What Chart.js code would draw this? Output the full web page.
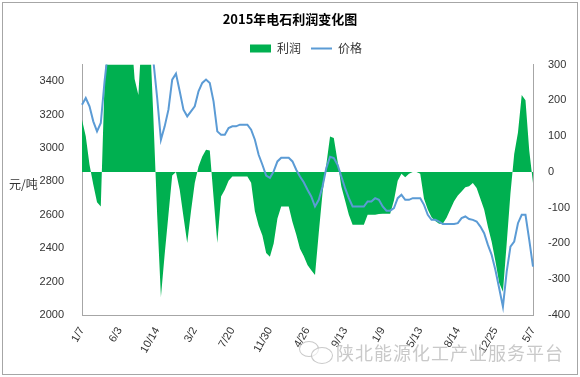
<!DOCTYPE html>
<html>
<head>
<meta charset="utf-8">
<script src="https://cdn.jsdelivr.net/npm/chart.js@4"></script>
<style>
    html, body { margin: 0; padding: 0; background: #fff; }
    #wrap { position: relative; width: 580px; height: 377px; }
    #frame { position: absolute; left: 2px; top: 2px; width: 574px; height: 371px; border: 1px solid #a6a6a6; pointer-events: none; }
    #mark { position: absolute; left: 336px; top: 339px; font: 18px "Noto Sans CJK SC", sans-serif; color: rgba(165,165,165,0.6); letter-spacing: 1px; white-space: nowrap; text-shadow: 0 0 2px #fff; }
    #icon1 { position: absolute; left: 299px; top: 341px; width: 18px; height: 14px; border: 1px solid rgba(165,165,165,0.6); border-radius: 50%; }
    #icon2 { position: absolute; left: 311px; top: 347px; width: 20px; height: 15px; border: 1px solid rgba(165,165,165,0.6); border-radius: 50%; background: rgba(255,255,255,0.6); }
</style>
</head>
<body>
<div id="wrap">
    <canvas id="chart" width="580" height="377"></canvas>
    <div id="icon1"></div><div id="icon2"></div>
    <div id="mark">陕北能源化工产业服务平台</div>
    <div id="frame"></div>
</div>
<script>
    'use strict';
    var title = '2015年电石利润变化图';
    var seriesNames = ['利润', '价格'];
    var tickLabels = ['1/7', '6/3', '10/14', '3/2', '7/20', '11/30', '4/26', '9/13', '1/9', '5/13', '8/14', '12/25', '5/7'];
    var pointsPerTick = 10;

    // 价格 (元/吨, left axis)
    var price = [
        3260, 3300, 3250, 3160, 3100, 3150, 3400, 3600, 3650, 3700,
        3700, 3700, 3700, 3700, 3700, 3700, 3700, 3650, 3600, 3520,
        3300, 3050, 3130, 3230, 3410, 3446, 3340, 3230, 3190, 3220,
        3250, 3340, 3390, 3410, 3390, 3280, 3100, 3080, 3080, 3120,
        3130, 3130, 3140, 3140, 3140, 3110, 3050, 2960, 2900, 2835,
        2822, 2860, 2920, 2942, 2942, 2942, 2920, 2870, 2830, 2795,
        2750, 2710, 2650, 2690, 2770, 2880, 2948, 2940, 2900, 2830,
        2760, 2700, 2650, 2650, 2650, 2650, 2680, 2680, 2700, 2690,
        2650, 2625, 2625, 2640, 2700, 2720, 2690, 2690, 2700, 2700,
        2700, 2660, 2600, 2570, 2570, 2560, 2545, 2545, 2545, 2545,
        2550, 2580, 2590, 2575, 2570, 2560, 2530, 2490, 2420, 2360,
        2270, 2160, 2050, 2260, 2410, 2440, 2550, 2600, 2600, 2450,
        2290
    ];

    // 利润 (right axis)
    var profit = [
        146, 100, 20, -35, -85, -97, 250, 400, 400, 400,
        400, 400, 400, 400, 260, 215, 400, 400, 400, 150,
        -120, -350, -230, -120, -10, 0, -50, -125, -199, -110,
        -31, 15, 43, 62, 60, -70, -199, -69, -50, -25,
        -13, -13, -13, -13, -13, -30, -110, -150, -178, -227,
        -237, -200, -130, -97, -97, -97, -140, -175, -215, -235,
        -260, -275, -288, -170, -59, 20, 99, 95, 30, -41,
        -80, -120, -148, -148, -148, -148, -120, -120, -120, -118,
        -117, -117, -117, -80, -25, -5, -15, -5, 0, 0,
        -5, -75, -105, -127, -137, -145, -145, -128, -105, -82,
        -66, -55, -43, -40, -31, -45, -75, -105, -153, -195,
        -250, -310, -335, -200, -60, 50, 110, 215, 200, 60,
        -31
    ];

    var labels = price.map(function (v, i) {
        return i % pointsPerTick === 0 ? tickLabels[i / pointsPerTick] : '';
    });

    var axisFont = { family: '"Liberation Sans", Arial, sans-serif', size: 11 };
    var cjk = '"Noto Sans CJK SC", sans-serif';

    // horizontal "元/吨" next to the left axis, shifts legend over the plot
    var extras = {
        id: 'extras',
        afterLayout: function (chart) {
            chart.legend.left += 16;
            chart.legend.right += 16;
        },
        afterDraw: function (chart) {
            var ctx = chart.ctx;
            ctx.save();
            ctx.font = '12px ' + cjk;
            ctx.fillStyle = '#333';
            ctx.textBaseline = 'middle';
            ctx.fillText('元/吨', 9, 184);
            ctx.restore();
        }
    };

    new Chart(document.getElementById('chart'), {
        type: 'line',
        data: {
            labels: labels,
            datasets: [
                {
                    label: seriesNames[0],
                    data: profit,
                    yAxisID: 'y1',
                    backgroundColor: '#00B050',
                    borderColor: 'rgba(0,0,0,0)',
                    borderWidth: 0,
                    fill: 'origin',
                    pointRadius: 0,
                    pointStyle: 'rect',
                    tension: 0,
                    order: 1
                },
                {
                    label: seriesNames[1],
                    data: price,
                    yAxisID: 'y',
                    borderColor: '#5B9BD5',
                    backgroundColor: '#5B9BD5',
                    borderWidth: 2,
                    fill: false,
                    pointRadius: 0,
                    pointStyle: 'line',
                    tension: 0,
                    order: 0
                }
            ]
        },
        options: {
            responsive: false,
            animation: false,
            layout: { padding: 0 },
            plugins: {
                title: {
                    display: true,
                    text: title,
                    color: '#000',
                    font: { family: cjk, size: 13, weight: 'bold' },
                    padding: { top: 11, bottom: 6 }
                },
                legend: {
                    display: true,
                    labels: {
                        usePointStyle: true,
                        pointStyleWidth: 21,
                        boxHeight: 8,
                        color: '#333',
                        font: { family: cjk, size: 12 },
                        padding: 10,
                        sort: function (a, b) { return a.datasetIndex - b.datasetIndex; }
                    }
                },
                tooltip: { enabled: false }
            },
            scales: {
                x: {
                    grid: { display: false },
                    border: { display: true, color: '#a6a6a6', width: 1 },
                    ticks: {
                        autoSkip: false,
                        maxRotation: 60,
                        minRotation: 60,
                        padding: 2,
                        color: '#333',
                        font: axisFont
                    },
                    afterFit: function (scale) { scale.height = 62; }
                },
                y: {
                    position: 'left',
                    min: 2000,
                    max: 3500,
                    grid: { display: false },
                    border: { display: true, color: '#a6a6a6', width: 1 },
                    ticks: {
                        stepSize: 200,
                        padding: 10,
                        color: '#333',
                        font: axisFont,
                        callback: function (v) { return v % 200 === 0 ? v : ''; }
                    },
                    afterFit: function (scale) { scale.width = 82; }
                },
                y1: {
                    position: 'right',
                    min: -400,
                    max: 300,
                    grid: { display: false },
                    border: { display: true, color: '#a6a6a6', width: 1 },
                    ticks: {
                        stepSize: 100,
                        padding: 7,
                        color: '#333',
                        font: axisFont
                    },
                    afterFit: function (scale) { scale.width = 47; }
                }
            }
        },
        plugins: [extras]
    });
</script>
</body>
</html>
